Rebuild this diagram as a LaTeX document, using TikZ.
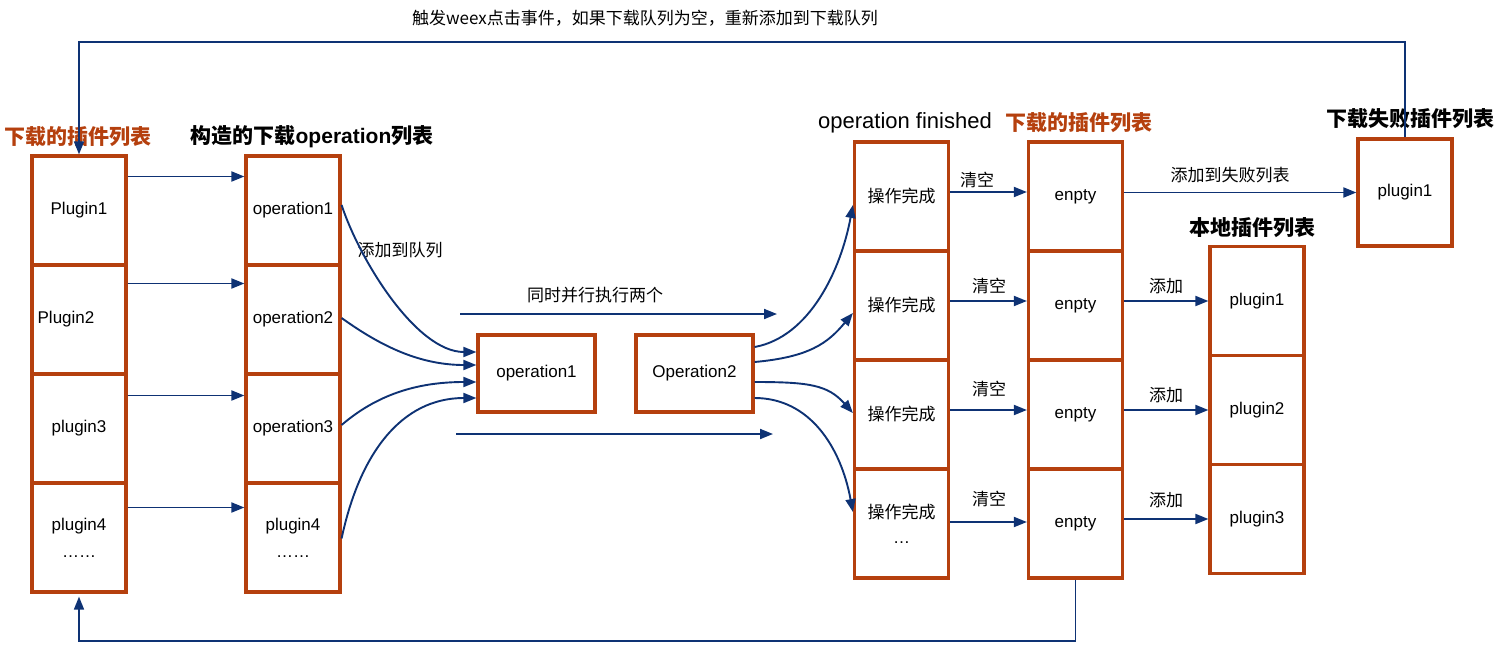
\documentclass[tikz,border=0pt]{standalone}
\usepackage{fontspec}
\setmainfont{Liberation Sans}
\newfontfamily\cjk{Noto Sans CJK SC}
\usetikzlibrary{arrows.meta}

\definecolor{boxred}{RGB}{181,64,14}
\definecolor{flowblue}{RGB}{14,50,116}
\newcommand\txtsize{\fontsize{17}{20}\selectfont}
\newcommand\headsize{\fontsize{21}{25}\selectfont}

\tikzset{
    cell/.style={draw=boxred, line width=3.2pt, minimum width=94pt,
        minimum height=109pt, inner sep=0pt, align=center, font=\txtsize},
    opbox/.style={cell, minimum width=117pt, minimum height=77pt},
    flow/.style={draw=flowblue, line width=1.9pt,
        -{Triangle[length=13pt,width=10pt]}},
    lbl/.style={font=\txtsize\cjk, inner sep=1pt},
    head/.style={font=\headsize\cjk\bfseries, inner sep=0pt},
}

\begin{document}
\begin{tikzpicture}[x=1pt, y=-1pt]
    \useasboundingbox (0,0) rectangle (1500,648);

    % Columnas de la izquierda.
    \node[cell] (p1) at (79,210.5) {Plugin1};
    \node[cell] (p2) at (79,319.5) {Plugin2\hspace*{26pt}};
    \node[cell] (p3) at (79,428.5) {plugin3};
    \node[cell] (p4) at (79,537.5) {plugin4\\[7pt]……};
    \node[cell] (o1) at (293,210.5) {operation1};
    \node[cell] (o2) at (293,319.5) {operation2};
    \node[cell] (o3) at (293,428.5) {operation3};
    \node[cell] (o4) at (293,537.5) {plugin4\\[7pt]……};
    \node[head, text=boxred] (hplug) at (78,137) {下载的插件列表};
    \node[head] (hop) at (312,137) {构造的下载{\fontspec{Liberation Sans}\bfseries operation}列表};

    \foreach \i/\d in {1/34,2/36,3/33,4/30} {
        \draw[flow] ([yshift=\d pt]p\i.east) -- ([yshift=\d pt]o\i.west);
    }

    % Las dos operaciones en paralelo.
    \node[opbox] (op1) at (536.5,373.5) {operation1};
    \node[opbox] (op2) at (694.5,373.5) {Operation2};
    \node[lbl] (tqueue) at (400,250) {添加到队列};
    \node[lbl] (tpar) at (595,295) {同时并行执行两个};
    \coordinate (pa1) at (460,314);
    \coordinate (pa2) at (777,314);
    \coordinate (pb1) at (456,434);
    \coordinate (pb2) at (773,434);
    \draw[flow] (pa1) -- (pa2);
    \draw[flow] (pb1) -- (pb2);

    \draw[flow] ([yshift=5.5pt]o1.east) .. controls +(18,55) and +(-60,0) .. ([yshift=21.5pt]op1.west);
    \draw[flow] ([yshift=1.5pt]o2.east) .. controls +(35,25) and +(-60,0) .. ([yshift=8.5pt]op1.west);
    \draw[flow] ([yshift=3.5pt]o3.east) .. controls +(35,-30) and +(-60,0) .. ([yshift=-8.5pt]op1.west);
    \draw[flow] ([yshift=-1pt]o4.east) .. controls +(18,-85) and +(-75,0) .. ([yshift=-24.5pt]op1.west);

    % Columnas de la derecha.
    \node[cell] (c1) at (901.5,196.5) {\cjk 操作完成};
    \node[cell] (c2) at (901.5,305.5) {\cjk 操作完成};
    \node[cell] (c3) at (901.5,414.5) {\cjk 操作完成};
    \node[cell] (c4) at (901.5,523.5) {{\cjk 操作完成}\\[5pt]…};
    \node[cell] (e1) at (1075.5,196.5) {enpty};
    \node[cell] (e2) at (1075.5,305.5) {enpty};
    \node[cell] (e3) at (1075.5,414.5) {enpty};
    \node[cell] (e4) at (1075.5,523.5) {enpty};
    \node[cell] (l1) at (1257,301) {plugin1};
    \node[cell] (l2) at (1257,410) {plugin2};
    \node[cell] (l3) at (1257,519) {plugin3};
    \node[cell, minimum height=107pt] (f) at (1405,192.5) {plugin1};

    \node[font=\fontsize{22}{26}\selectfont, inner sep=0pt] (hfin) at (905,123) {operation finished};
    \node[head, text=boxred] (hplug2) at (1079,123) {下载的插件列表};
    \node[head] (hfail) at (1410,119) {下载失败插件列表};
    \node[head] (hlocal) at (1252,228) {本地插件列表};

    \draw[flow] ([yshift=26.5pt]op2.east) .. controls +(55,-10) and +(-12,65) .. ([yshift=-8.5pt]c1.west);
    \draw[flow] ([yshift=11.5pt]op2.east) .. controls +(55,-5) and +(-25,30) .. ([yshift=-7.5pt]c2.west);
    \draw[flow] ([yshift=-8.5pt]op2.east) .. controls +(55,0) and +(-25,-28) .. ([yshift=1.5pt]c3.west);
    \draw[flow] ([yshift=-24.5pt]op2.east) .. controls +(55,0) and +(-12,-65) .. ([yshift=11.5pt]c4.west);

    \foreach \i/\d in {1/4.5,2/4.5,3/4.5,4/1.5} {
        \draw[flow] ([yshift=\d pt]c\i.east) -- ([yshift=\d pt]e\i.west);
    }
    \node[lbl] (tclr1) at (977,180) {清空};
    \node[lbl] (tclr2) at (989,286) {清空};
    \node[lbl] (tclr3) at (989,389) {清空};
    \node[lbl] (tclr4) at (989,499) {清空};

    \draw[flow] (f.west -| e1.east) -- (f.west);
    \node[lbl] (tfail) at (1230,175) {添加到失败列表};
    \draw[flow] (l1.west -| e2.east) -- (l1.west);
    \draw[flow] (l2.west -| e3.east) -- (l2.west);
    \draw[flow] (l3.west -| e4.east) -- (l3.west);
    \node[lbl] (tadd1) at (1166,286) {添加};
    \node[lbl] (tadd2) at (1166,395) {添加};
    \node[lbl] (tadd3) at (1166,500) {添加};

    % Retornos arriba y abajo.
    \coordinate (toprail) at (0,42);
    \coordinate (botrail) at (0,641);
    \draw[flow, line width=1.5pt] (f.north) -- (f.north |- toprail) -- (p1.north |- toprail) -- (p1.north);
    \draw[flow, line width=1.5pt] (e4.south) -- (e4.south |- botrail) -- (p4.south |- botrail) -- ([yshift=-3pt]p4.south);
    \node[lbl] (tloop) at (645,18) {触发weex点击事件，如果下载队列为空，重新添加到下载队列};
\end{tikzpicture}
\end{document}
